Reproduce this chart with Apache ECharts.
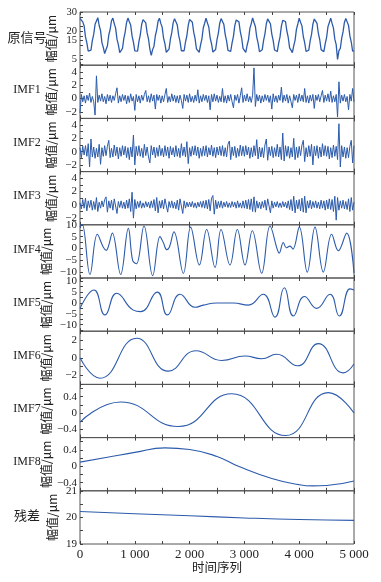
<!DOCTYPE html>
<html><head><meta charset="utf-8">
<script src="https://cdn.jsdelivr.net/npm/echarts@6/dist/echarts.min.js"></script>
<style>html,body{margin:0;padding:0;background:#fff}#c{width:381px;height:582px}</style>
</head><body><div id="c"></div>
<script>
// ---------------- data ----------------
const X_MIN = 0, X_MAX = 5000;
const xTickValues = [0, 1000, 2000, 3000, 4000, 5000];
const xTickLabels = ['0', '1 000', '2 000', '3 000', '4 000', '5 000'];
const xMinorTickValues = [0, 500, 1000, 1500, 2000, 2500, 3000, 3500, 4000, 4500, 5000];
const panelNames = ['原信号', 'IMF1', 'IMF2', 'IMF3', 'IMF4', 'IMF5', 'IMF6', 'IMF7', 'IMF8', '残差'];
const yAxisName = '幅值/μm';
const xAxisName = '时间序列';

// equally spaced samples across 0..5000
const origValues = [26.6,27.4,24.8,22.8,16.9,13.8,9.4,9.3,9.9,14.9,
18.2,23.5,25.3,27.0,22.9,20.2,13.9,11.4,8.1,10.3,
12.1,17.9,20.9,25.4,26.8,23.9,21.5,15.7,12.8,8.6,
9.7,10.8,16.1,19.6,24.5,26.8,24.9,23.1,17.4,14.1,
9.5,9.4,9.4,14.4,17.9,23.4,26.0,25.4,24.3,19.0,
15.8,10.5,7.2,10.2,12.0,17.5,20.6,25.2,26.7,24.0,
21.9,16.2,13.2,8.8,9.6,10.5,15.8,19.2,24.3,26.5,
24.9,23.2,17.8,14.5,9.6,9.5,9.6,14.2,17.5,23.0,
26.1,25.4,24.6,19.4,16.0,10.6,9.6,8.8,12.7,15.9,
21.7,24.1,26.8,24.3,22.1,16.4,13.3,8.9,9.6,10.3,
15.4,18.9,24.1,26.5,25.0,23.5,18.1,14.8,9.8,9.4,
9.3,13.8,17.2,22.8,25.8,25.5,24.8,19.7,16.3,10.9,
9.8,8.7,12.5,15.5,21.4,23.9,26.9,24.5,22.4,16.8,
13.6,9.1,9.5,10.1,15.1,18.5,23.8,26.4,25.1,23.8,
18.4,15.1,10.0,9.4,9.2,13.5,16.9,22.6,25.6,25.5,
25.0,20.0,16.6,11.1,9.9,8.6,12.2,15.2,21.0,23.7,
26.7,24.6,22.7,17.1,13.9,9.2,9.5,9.9,14.8,18.2,
23.6,26.3,25.2,24.0,18.7,15.4,10.2,9.6,9.1,13.3,
16.6,22.3,24.5,26.8,24.0,21.5,15.7,12.8,5.0,9.7,
10.8,16.1,19.5,24.5,26.6,24.8,23.0,17.4,14.2,9.4,
9.5];

const imf1Values = [-2.2,0.6,-0.5,0.4,-0.7,0.5,-0.3,0.8,-0.6,0.3,
-0.5,-2.5,3.4,-0.6,0.5,-0.4,0.7,-0.5,0.3,-0.8,
0.6,-0.4,0.5,-0.6,0.4,-0.3,0.7,1.6,-0.7,0.4,
-0.5,0.6,-0.3,0.5,-0.8,0.4,-0.6,0.7,-0.4,0.3,
-1.8,0.6,-0.5,0.4,-0.7,0.5,-0.3,0.6,1.2,-0.5,
0.4,-0.6,0.7,-0.4,0.5,-1.6,0.6,-0.3,0.5,-0.7,
0.4,-0.5,0.6,1.5,-0.6,0.3,-0.5,0.7,-0.4,0.5,
-0.6,0.4,-0.7,0.5,-0.3,-1.5,0.6,-0.4,0.5,-0.6,
0.7,-0.5,0.3,-0.6,0.5,-0.4,1.3,-0.7,0.4,-0.5,
0.6,-0.3,0.5,-0.6,0.4,-1.7,0.6,-0.5,0.7,-0.4,
0.5,-0.6,0.3,-0.5,1.5,-0.6,0.4,-0.7,0.5,-0.4,
0.6,-0.5,-1.4,0.5,-0.3,0.6,-0.7,0.4,1.6,-0.6,
0.5,-0.4,0.7,-0.5,0.3,-0.6,0.5,4.6,-1.2,0.6,
-0.4,0.5,-0.7,0.4,-0.5,0.6,-0.3,0.5,-0.6,0.4,
-1.6,0.7,-0.5,0.4,-0.6,0.5,-0.3,1.7,-0.6,0.5,
-0.4,0.6,-0.7,0.4,-0.5,-1.4,0.6,-0.3,0.5,-0.6,
0.7,-0.4,0.5,-0.5,1.5,-0.6,0.4,-0.7,0.5,-0.4,
0.6,-1.5,0.5,-0.3,0.6,-0.5,0.4,1.2,-0.6,0.5,
-0.4,0.7,-0.5,1.1,-0.6,0.4,-0.5,0.6,-2.8,2.5,
-0.7,0.5,-0.4,0.6,-0.5,0.3,-1.7,0.6,-0.4,1.5,
-0.5];

const imf2Values = [0.6,-0.9,0.8,-0.5,0.9,-0.7,1.2,-2.3,1.9,-0.8,
0.7,-1.0,0.5,-0.8,1.1,-1.9,0.6,-0.7,0.9,-0.6,
0.8,1.7,-0.9,0.5,-0.8,1.0,-0.6,0.7,-1.1,0.6,
-0.7,0.9,-0.5,0.8,-0.9,0.6,-1.2,0.7,-0.8,2.5,
-2.0,0.8,-0.6,0.9,-0.7,0.5,-0.9,1.1,-0.6,0.7,
-0.8,-1.7,0.9,-0.5,0.7,-0.9,0.6,-0.7,1.0,-0.6,
0.5,-0.8,0.9,-0.6,0.7,-1.0,0.8,-0.5,0.6,-0.8,
0.9,-0.7,0.5,-0.9,1.2,-0.6,0.7,-0.8,1.5,-1.8,
0.6,-0.7,0.8,-0.5,0.9,-0.6,0.7,-1.0,0.5,-0.7,
0.8,-0.6,0.9,-0.8,0.6,-0.5,1.0,-0.7,0.6,-0.9,
0.7,-0.5,0.8,-0.6,0.9,-0.7,0.6,-0.8,1.1,1.6,
-1.2,0.7,-0.6,0.8,-0.9,0.5,-0.7,1.0,-0.6,0.8,
-0.7,0.9,-0.5,0.7,-1.0,0.6,-0.8,0.9,-0.6,1.8,
-1.1,0.7,-0.8,0.6,-0.9,1.0,1.9,-1.3,0.7,-0.6,
0.8,-0.9,0.6,-0.7,1.1,-0.8,0.7,-1.2,2.8,-1.4,
0.9,-0.7,0.8,-1.0,0.6,-0.8,2.0,-1.2,0.7,-0.9,
0.8,-0.6,1.0,1.7,-1.5,0.6,-0.8,0.9,-0.7,1.1,
-2.0,0.8,-0.6,0.9,-1.0,0.7,-0.8,1.2,-0.6,0.9,
-0.7,0.8,-1.1,0.6,-0.9,1.0,-0.7,0.8,-1.2,4.2,
-2.3,0.9,-0.8,0.7,-1.0,0.6,-0.9,0.8,1.7,-1.7,
0.9];

const imf3Values = [0.3,-0.6,0.8,-0.5,1.0,-0.9,0.6,-0.4,0.7,-0.8,
0.5,-0.7,1.1,-1.0,0.4,-0.5,0.6,-0.3,0.8,1.2,
-1.1,0.6,-0.5,0.7,-0.8,0.9,1.2,-1.3,0.5,-0.4,
0.6,-0.5,0.4,-0.6,0.7,-0.5,0.9,-1.0,1.9,-2.0,
0.8,-0.6,0.5,-0.4,0.6,-0.5,0.3,-0.4,0.5,-0.3,
0.4,-0.5,0.6,-0.4,0.8,-0.9,1.1,-1.2,0.6,-0.5,
0.7,-0.6,0.9,1.0,-1.1,0.5,-0.4,0.6,-0.5,0.4,
-0.6,0.7,-0.8,0.9,1.2,-1.3,0.6,-0.5,0.4,-0.3,
0.4,-0.3,0.5,-0.4,0.3,-0.5,0.4,-0.3,0.5,-0.4,
0.6,-0.5,0.7,-0.6,0.8,-0.9,1.0,1.4,-1.4,0.7,
-0.6,0.5,-0.4,0.6,-0.5,0.4,-0.3,0.5,-0.4,0.3,
-0.4,0.5,-0.3,0.4,-0.5,0.6,-0.4,0.3,-0.5,0.6,
-0.5,0.7,-0.6,0.8,-0.7,0.9,-1.0,1.2,-1.1,0.6,
-0.5,0.4,-0.6,0.5,-0.4,0.7,-0.8,0.9,1.1,-1.2,
0.6,-0.5,0.4,-0.3,0.5,-0.4,0.3,-0.4,0.5,-0.3,
0.4,-0.5,0.6,-0.7,0.8,-0.9,1.3,-1.2,0.7,-0.6,
0.8,-0.9,1.0,-1.1,1.3,-1.2,0.6,-0.5,0.7,-0.6,
0.5,-0.4,0.6,-0.5,0.4,-0.6,0.7,-0.5,0.6,-0.8,
0.7,-0.6,0.9,-0.7,0.8,-1.0,1.3,-2.3,1.1,-0.8,
0.6,-0.5,0.7,-0.6,0.5,-0.7,0.9,-1.0,1.1,-0.8,
0.4];

// smooth components: sample positions and values at read-off points
const imf4X = [0,40,182,316,426,480,520,590,742,882,960,1030,1168,1326,1460,1520,1582,1630,1715,1886,2019,2178,2311,2464,2573,2737,2871,3011,3145,3315,3467,3601,3635,3710,3765,3832,3885,4002,4148,4288,4440,4592,4714,4866,5000];
const imf4Y = [9,10.3,-11,6,0.5,-0.8,1,6.5,-11,8.5,-5,-6.5,9.5,-11.5,5,2.5,-0.5,0.5,7,-10.5,9,-7,8,-8,8,-7,8,-7,7.5,-10.5,9.5,-0.5,-2,2.5,0.3,1,-0.3,9,-10,9,-10,6,-1,6.5,-10.5];

const imf5X = [0,255,456,669,973,1107,1411,1594,1825,2099,2251,2494,2798,3072,3345,3558,3729,3893,4094,4319,4562,4732,4927,5000];
const imf5Y = [-2.5,6,-5.5,4.5,-3.3,-4,5,-5.5,4,-2,-1,0,0,-1,4,-6.5,7,-6,3,-2.5,4,-6,6.5,6];

const imf6X = [0,365,1034,1612,2117,2585,3011,3315,3589,3972,4349,4805,5000];
const imf6Y = [0,-2.3,2.2,-1.5,0.8,-0.3,0.2,-0.1,0.4,-0.9,1.6,-1.7,-0.7];

const imf7X = [0,742,1794,2768,3753,4532,5000];
const imf7Y = [-0.22,0.27,-0.33,0.47,-0.55,0.5,0];

const imf8X = [0,500,1000,1550,2000,2500,2890,3500,4000,4250,4500,5000];
const imf8Y = [0.1,0.22,0.34,0.45,0.41,0.24,0,-0.3,-0.45,-0.48,-0.47,-0.36];

const resX = [0,1000,2000,3000,4000,5000];
const resY = [20.22,20.14,20.06,19.98,19.92,19.89];

// axis ranges and tick labels
const yRanges = [[2,30],[-3,5],[-3,5],[-3,5],[-12.5,10],[-13,11.5],[-3,3],[-0.6,0.7],[-0.6,0.7],[19,21]];
const yTickLabels = [[5,10,15,20,25,30],[-2,0,2,4],[-2,0,2,4],[-2,0,2,4],[-10,-5,0,5,10],[-10,-5,0,5,10],[-2,0,2],[-0.4,0,0.4],[-0.4,0,0.4],[19,20,21]];

// ---------------- chart ----------------
const sampled = arr => arr.map((v, i) => [X_MIN + i * (X_MAX - X_MIN) / (arr.length - 1), v]);
const paired = (xs, ys) => xs.map((x, i) => [x, ys[i]]);
const seriesData = [
  sampled(origValues), sampled(imf1Values), sampled(imf2Values), sampled(imf3Values),
  paired(imf4X, imf4Y), paired(imf5X, imf5Y), paired(imf6X, imf6Y),
  paired(imf7X, imf7Y), paired(imf8X, imf8Y), paired(resX, resY)
];
const smoothFlags = [false,false,false,false,0.4,0.5,0.5,0.5,0.5,0.5];

const TOP = 12, PANEL_H = 53.2, LEFT = 80, RIGHT = 27;
const LINE = '#2c5bab';
const SERIF = '"Liberation Serif","Times New Roman",serif';
const CJK = '"Noto Sans CJK SC",sans-serif';
const nameGaps = [23,23,23,23,28,28,28,28,28,22];
const fmt = v => String(v).replace('-', '\u2212');

function minorTicks(labels, range) {
  const step = labels.length > 1 ? (labels[1] - labels[0]) / 2 : 1;
  const out = [];
  for (let k = -20; k <= 20; k++) {
    const v = +(labels[0] + k * step).toFixed(6);
    if (v >= range[0] - 1e-9 && v <= range[1] + 1e-9) out.push(v);
  }
  return out;
}

const grids = [], xAxes = [], yAxes = [], series = [], graphics = [];
for (let p = 0; p < 10; p++) {
  grids.push({ left: LEFT, right: RIGHT, top: TOP + p * PANEL_H, height: PANEL_H,
    show: true, borderColor: '#555', borderWidth: 1, backgroundColor: 'transparent' });
  const isLast = p === 9;
  xAxes.push({ gridIndex: p, type: 'value', min: X_MIN, max: X_MAX, position: 'bottom',
    axisLine: { show: false, onZero: false }, splitLine: { show: false },
    axisTick: { inside: true, length: 3, customValues: xMinorTickValues, lineStyle: { color: '#444' } },
    axisLabel: { show: isLast, customValues: xTickValues, margin: 4, fontSize: 13, fontFamily: SERIF, color: '#222',
      hideOverlap: false, formatter: v => xTickLabels[xTickValues.indexOf(v)] },
    name: isLast ? xAxisName : '', nameLocation: 'middle', nameGap: 17, nameMoveOverlap: false,
    nameTextStyle: { fontFamily: CJK, fontSize: 12.5, color: '#222' } });
  xAxes.push({ gridIndex: p, type: 'value', min: X_MIN, max: X_MAX, position: 'top',
    axisLine: { show: false, onZero: false }, splitLine: { show: false },
    axisTick: { inside: true, length: 3, customValues: xMinorTickValues, lineStyle: { color: '#444' } },
    axisLabel: { show: false } });
  yAxes.push({ gridIndex: p, type: 'value', min: yRanges[p][0], max: yRanges[p][1],
    name: yAxisName, nameLocation: 'middle', nameRotate: 90, nameGap: nameGaps[p], nameMoveOverlap: false,
    nameTextStyle: { fontFamily: CJK, fontSize: 12, color: '#222' },
    axisLine: { show: false, onZero: false }, splitLine: { show: false },
    axisTick: { inside: true, length: 3, customValues: minorTicks(yTickLabels[p], yRanges[p]), lineStyle: { color: '#444' } },
    axisLabel: { customValues: yTickLabels[p], margin: 3, hideOverlap: false, showMinLabel: true, showMaxLabel: true,
      fontSize: p === 0 ? 10.5 : 11, fontFamily: SERIF, color: '#222', formatter: fmt } });
  series.push({ type: 'line', xAxisIndex: 2 * p, yAxisIndex: p, data: seriesData[p],
    showSymbol: false, smooth: smoothFlags[p],
    lineStyle: { color: LINE, width: p === 0 ? 1.3 : (p < 4 ? 1.0 : 1.1) }, silent: true, animation: false });
  const isCJK = /[\u4e00-\u9fff]/.test(panelNames[p]);
  graphics.push({ type: 'text', x: 27, y: TOP + p * PANEL_H + PANEL_H / 2 - 2,
    style: { text: panelNames[p], fill: '#222', align: 'center', verticalAlign: 'middle',
      font: (isCJK ? '13px ' + CJK : '12px ' + SERIF) } });
}

const chart = echarts.init(document.getElementById('c'), null, { renderer: 'canvas' });
chart.setOption({
  animation: false,
  backgroundColor: '#fff',
  grid: grids, xAxis: xAxes, yAxis: yAxes, series: series, graphic: graphics
});
</script>
</body></html>
